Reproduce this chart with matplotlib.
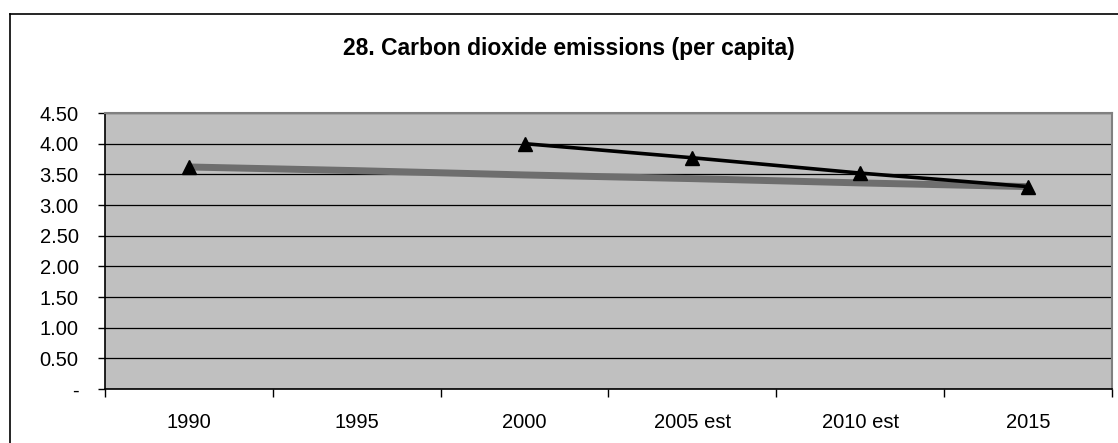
import numpy as np
import matplotlib.pyplot as plt
from matplotlib.lines import Line2D
from matplotlib.ticker import FixedLocator

plt.rcParams['font.family'] = ['Liberation Sans', 'DejaVu Sans']

categories = ["1990", "1995", "2000", "2005 est", "2010 est", "2015"]
# actual / estimated values (1995 missing -> gap in line)
actual = [3.62, np.nan, 4.00, 3.77, 3.52, 3.30]
# target trajectory
target = [3.62, 3.56, 3.49, 3.43, 3.36, 3.30]
yticks = [0, 0.5, 1.0, 1.5, 2.0, 2.5, 3.0, 3.5, 4.0, 4.5]

W, H = 1118, 443
fig = plt.figure(figsize=(W / 100, H / 100), dpi=100)
ax = fig.add_axes([105 / W, 1 - 389 / H, (1112 - 105) / W, (389 - 113) / H])
ax.set_facecolor("#c0c0c0")

x = np.arange(len(categories))
ax.plot(x, target, color="#6e6e6e", lw=5, solid_capstyle="butt", zorder=3)
ax.plot(x, actual, color="black", lw=2.6, zorder=4)
ax.plot(x, actual, ls="none", marker="^", ms=10, color="black", zorder=5)

ax.set_xlim(-0.5, len(categories) - 0.5)
ax.set_ylim(0, 4.5)
ax.set_yticks(yticks)
ax.set_yticklabels(["-" if v == 0 else f"{v:.2f}" for v in yticks])
ax.yaxis.grid(True, color="black", lw=0.9)
ax.set_axisbelow(True)

ax.set_xticks(x)
ax.set_xticklabels(categories)
ax.xaxis.set_minor_locator(FixedLocator(np.arange(-0.5, len(categories), 1.0)))
ax.tick_params(axis="x", which="major", length=0, pad=17, labelsize=14.5)
ax.tick_params(axis="x", which="minor", length=6, width=1, direction="out")
ax.tick_params(axis="y", length=5, width=1, direction="out", pad=14, labelsize=14.5)

for s in ("top", "right"):
    ax.spines[s].set_color("#808080")
    ax.spines[s].set_linewidth(1.5)
for s in ("left", "bottom"):
    ax.spines[s].set_color("black")
    ax.spines[s].set_linewidth(1.2)

fig.text(569 / W, 1 - 48 / H, "28. Carbon dioxide emissions (per capita)",
         ha="center", va="center", fontsize=16.5, fontweight="bold")

# outer chart border (cropped on the right and bottom)
fig.add_artist(Line2D([10 / W, 1], [1 - 14 / H, 1 - 14 / H], color="black", lw=1.2))
fig.add_artist(Line2D([10 / W, 10 / W], [0, 1 - 14 / H], color="black", lw=1.2))

fig.savefig("out.png", dpi=100)
